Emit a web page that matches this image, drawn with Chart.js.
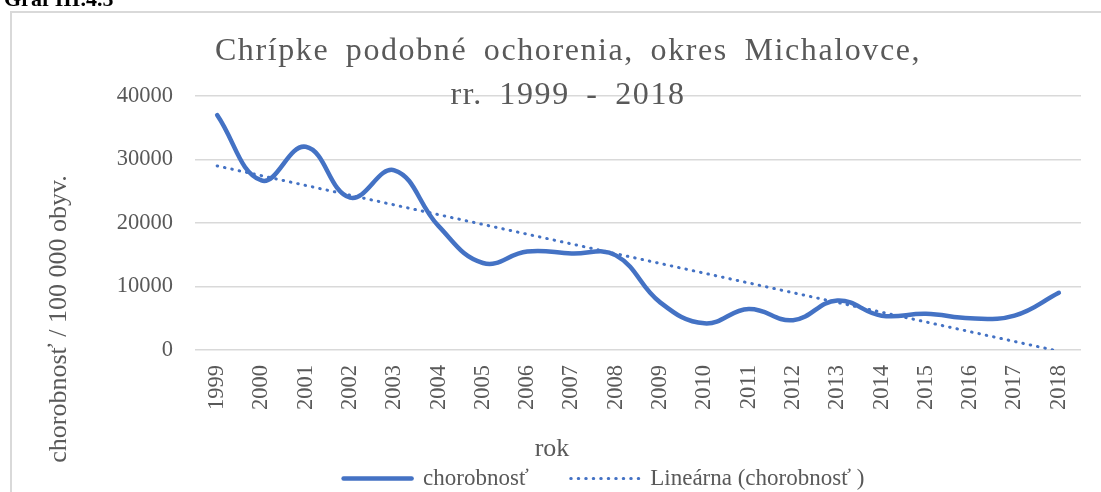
<!DOCTYPE html>
<html>
<head>
<meta charset="utf-8">
<script src="https://cdn.jsdelivr.net/npm/chart.js@4.4.1/dist/chart.umd.min.js"></script>
<style>
html,body{margin:0;padding:0;background:#fff;overflow:hidden;}
#wrap{position:relative;width:1101px;height:492px;overflow:hidden;background:#fff;}
#frame{position:absolute;left:10px;top:11px;width:1100px;height:490px;border-left:2px solid #d9d9d9;border-top:2px solid #d9d9d9;}
canvas{position:absolute;left:0;top:0;}
.txt{position:absolute;font-family:"Liberation Serif","Times New Roman",serif;color:#595959;white-space:nowrap;}
#graf{left:4px;top:-12px;font-size:22px;line-height:22px;font-weight:bold;color:#000;}
#title{left:0;width:1136px;top:27px;text-align:center;font-size:32px;line-height:44px;letter-spacing:1.6px;word-spacing:7px;}
#xtitle{left:452px;width:200px;top:435px;text-align:center;font-size:26px;line-height:26px;}
#ytitle{left:-142px;width:400px;top:304px;height:30px;text-align:center;font-size:26px;line-height:30px;transform:rotate(-90deg);transform-origin:50% 50%;}
</style>
</head>
<body>
<div id="wrap">
  <div id="frame"></div>
  <canvas id="c" width="1101" height="500"></canvas>
  <div class="txt" id="graf">Graf III.4.5</div>
  <div class="txt" id="title">Chrípke podobné ochorenia, okres Michalovce,<br>rr. 1999 - 2018</div>
  <div class="txt" id="xtitle">rok</div>
  <div class="txt" id="ytitle">chorobnosť / 100 000 obyv.</div>
</div>
<script>
const years = ['1999','2000','2001','2002','2003','2004','2005','2006','2007','2008','2009','2010','2011','2012','2013','2014','2015','2016','2017','2018'];
const chorobnost = [37000, 26700, 32000, 24000, 28300, 19500, 13700, 15500, 15200, 14900, 7500, 4200, 6450, 4700, 7800, 5400, 5700, 5000, 5400, 9000];
const yTickValues = [0, 10000, 20000, 30000, 40000];
const seriesName = 'chorobnosť';
const trendName = 'Lineárna (chorobnosť )';

// Linear trendline (least squares fit of the series, as in the original "Lineárna" trend)
const n = chorobnost.length;
const mx = (n - 1) / 2;
const my = chorobnost.reduce((a, b) => a + b, 0) / n;
let sxy = 0, sxx = 0;
chorobnost.forEach((v, i) => { sxy += (i - mx) * (v - my); sxx += (i - mx) * (i - mx); });
const slope = sxy / sxx;
const trend = chorobnost.map((v, i) => my + slope * (i - mx));

const blue = '#4472C4';
const grey = '#595959';
const fam = '"Liberation Serif", "Times New Roman", serif';

new Chart(document.getElementById('c'), {
  type: 'line',
  data: {
    labels: years,
    datasets: [
      {
        label: seriesName,
        data: chorobnost,
        borderColor: blue,
        backgroundColor: blue,
        borderWidth: 4.5,
        tension: 0.42,
        pointRadius: 0,
        borderCapStyle: 'round',
        borderJoinStyle: 'round',
        fill: false
      },
      {
        label: trendName,
        data: trend,
        borderColor: blue,
        backgroundColor: blue,
        borderWidth: 3,
        borderDash: [0.5, 7],
        borderCapStyle: 'round',
        tension: 0,
        pointRadius: 0,
        fill: false
      }
    ]
  },
  options: {
    responsive: false,
    animation: false,
    events: [],
    layout: { padding: { top: 96, left: 113, right: 6, bottom: 0 } },
    plugins: {
      title: { display: false },
      tooltip: { enabled: false },
      legend: {
        display: true,
        position: 'bottom',
        labels: {
          usePointStyle: true,
          pointStyle: 'line',
          pointStyleWidth: 68,
          padding: 42,
          color: grey,
          font: { family: fam, size: 23 },
          generateLabels(chart) {
            const items = Chart.defaults.plugins.legend.labels.generateLabels(chart);
            items.forEach(it => {
              const ds = chart.data.datasets[it.datasetIndex];
              it.lineDash = ds.borderDash || [];
              it.lineCap = ds.borderCapStyle || 'butt';
              it.lineWidth = ds.borderWidth;
            });
            return items;
          }
        }
      }
    },
    scales: {
      x: {
        offset: true,
        grid: { display: false, drawTicks: false },
        border: { display: false },
        ticks: {
          autoSkip: false,
          minRotation: 90,
          maxRotation: 90,
          padding: 15,
          color: grey,
          font: { family: fam, size: 22.5 }
        },
        afterFit(s) { s.height = 75; }
      },
      y: {
        min: 0,
        max: 40000,
        afterBuildTicks(s) { s.ticks = yTickValues.map(v => ({ value: v })); },
        grid: { color: '#d9d9d9', lineWidth: 1.5, drawTicks: false },
        border: { display: false },
        ticks: {
          padding: 22,
          color: grey,
          font: { family: fam, size: 22.5 },
          callback: v => String(v)
        },
        afterFit(s) { s.width = 82; }
      }
    }
  }
});
</script>
</body>
</html>
